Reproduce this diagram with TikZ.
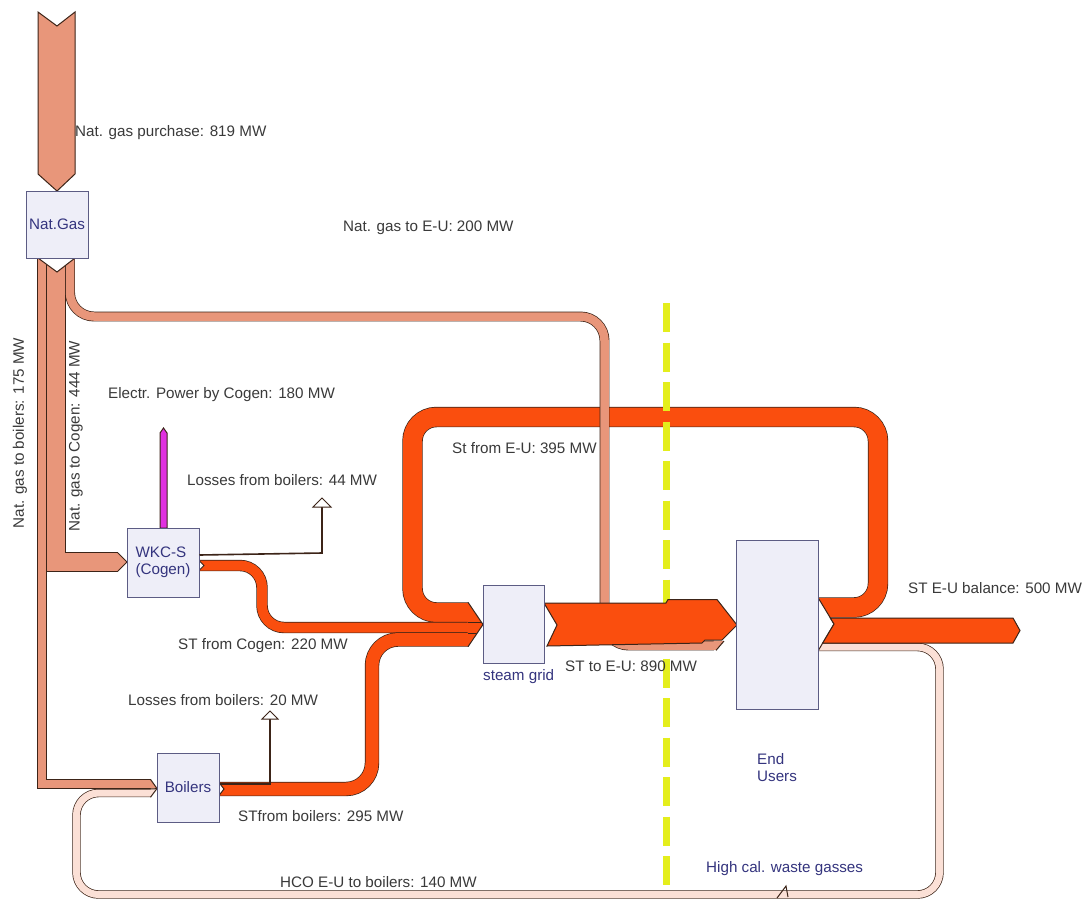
\documentclass[tikz,border=0pt]{standalone}
\usepackage{fontspec}
\setmainfont{Liberation Sans}
\definecolor{gas}{HTML}{E8967A}
\definecolor{steam}{HTML}{FA4E0E}
\definecolor{hco}{HTML}{FBE0D6}
\definecolor{edgec}{HTML}{3C2418}
\definecolor{boxfill}{HTML}{EEEEF8}
\definecolor{boxline}{HTML}{5C5C84}
\definecolor{boxtext}{HTML}{34347E}
\definecolor{labeltext}{HTML}{3A3A3A}
\definecolor{ylw}{HTML}{E4EE1C}
\definecolor{mag}{HTML}{E030E0}
\newcommand\flowband[3]{%
  \draw[#1, draw=edgec, line width=#2pt+1.4pt] #3;
  \draw[#1, line width=#2pt] #3;}
\newcommand\fs{\fontsize{15.2}{17}\selectfont}
\begin{document}
\begin{tikzpicture}[x=1pt,y=-1pt,
  box/.style={draw=boxline, fill=boxfill, line width=1pt, text=boxtext, inner sep=0pt, font=\fs},
  lbl/.style={text=labeltext, inner sep=0pt, anchor=west, font=\fs},
  blbl/.style={text=boxtext, inner sep=0pt, anchor=west, font=\fs},
  edg/.style={draw=edgec, line width=1pt},
  loss/.style={draw=edgec, line width=1.6pt}]
\useasboundingbox[fill=white] (0,0) rectangle (1090,903);

% ---- natural gas purchase
\filldraw[fill=gas, edg] (38,12)--(57,26)--(75,12)--(75,174)--(57,191)--(38,174)--cycle;

% ---- gas to cogen and boilers
\flowband{draw=gas}{18}{(56,258)--(56,562)--(118,562)}
\filldraw[fill=gas, edg] (117.5,553)--(118,553)--(127,562)--(118,571)--(117.5,571);
\flowband{draw=gas}{8}{(42,258)--(42,784)--(151,784)}

% ---- HCO loop back to boilers
\flowband{draw=hco, rounded corners=22pt}{7}{(818,647)--(939.5,647)--(939.5,894.5)--(76.5,894.5)--(76.5,793)--(151,793)}
\fill[gas] (150.5,780)--(157,788.5)--(150.5,788.5)--cycle;
\fill[hco] (150.5,789.5)--(157,788.5)--(150.5,796.5)--cycle;
\draw[edg] (150.5,779.4)--(157,788.5)--(150.5,797.2);
\draw[edg] (150.5,788.9)--(156,788.7);
\draw[edg] (777,898)--(786,886)--(788,897);

% ---- steam loop from end users
\flowband{draw=steam, rounded corners=24pt}{19}{(818,607.5)--(878,607.5)--(878,417)--(412.5,417)--(412.5,612.5)--(468,612.5)}
% ---- steam from cogen
\flowband{draw=steam, rounded corners=22pt}{10}{(199,565.5)--(262,565.5)--(262,627.5)--(468,627.5)}
% ---- steam from boilers
\flowband{draw=steam, rounded corners=26pt}{13}{(219,789)--(372,789)--(372,639.5)--(468,639.5)}
% tips into steam grid
\fill[steam] (467.5,603)--(468,603)--(481.3,622)--(467.5,622)--cycle;
\fill[steam] (467.5,622)--(481.3,622)--(483,624.5)--(477.1,633)--(467.5,633)--cycle;
\fill[steam] (467.5,633)--(477.1,633)--(468,646)--(467.5,646)--cycle;
\draw[edg] (468,602.3)--(483,624.5)--(468,646.7);
\draw[edg] (468,622)--(481.3,622);
\draw[edg] (468,633)--(477.1,633);

% ---- yellow boundary
\draw[ylw, line width=7.5pt, dash pattern=on 29pt off 10.5pt] (666.5,303)--(666.5,886);

% ---- gas to end users
\flowband{draw=gas, rounded corners=24pt}{8.5}{(70,258)--(70,316.5)--(604.5,316.5)--(604.5,645.5)--(714,645.5)}
\fill[gas] (713.5,641.2)--(724,641.2)--(716,649.8)--(713.5,649.8)--cycle;
\draw[edg] (724,641)--(716,650.4);

% ---- steam to end users
\filldraw[fill=steam, edg] (544,603)--(666,603)--(668,599.5)--(717,599.5)--(737,625)--(722,640)--(705,640)--(702,643)--(547,646)--(557,625)--cycle;

% ---- end users outputs
\filldraw[fill=white, edg] (818,597.5)--(834,624)--(818,651);
\filldraw[fill=steam, edg] (830.3,618)--(1013,618)--(1020,630.5)--(1013,643)--(822.7,643)--(834,624)--cycle;

% ---- notches
\filldraw[fill=white, edg] (38,258)--(57,272)--(75,258);
\filldraw[fill=white, edg] (199,560.5)--(204,565.5)--(199,570.5);
\filldraw[fill=white, edg] (219,782.5)--(224,789)--(219,795.5);

% ---- electric power
\filldraw[fill=mag, edg] (160,528)--(160,433)--(163.5,428)--(167,433)--(167,528)--cycle;

% ---- boxes
\node[box, minimum width=62pt, minimum height=67pt] (natgas) at (57,224.5) {Nat.Gas};
\node[box, minimum width=72pt, minimum height=69pt, align=left] (wkc) at (163,562.5) {WKC-S\\(Cogen)};
\node[box, minimum width=62pt, minimum height=69pt] (boilers) at (188,787.5) {Boilers};
\node[box, minimum width=61pt, minimum height=78pt] (grid) at (513.5,624) {};
\node[box, minimum width=82pt, minimum height=169pt] (users) at (777,624.5) {};

% ---- losses
\draw[loss] (wkc.east |- 0,555) -- (322,553) -- (322,507);
\filldraw[fill=white, edg] (313,507)--(322,498)--(331,507)--cycle;
\draw[loss] (boilers.east |- 0,784) -- (270,784) -- (270,719);
\filldraw[fill=white, edg] (262,719)--(270,711)--(278,719)--cycle;

% ---- labels
\node[lbl] (l1) at (75,133) {Nat. gas purchase: 819 MW};
\node[lbl] (l2) at (343,228) {Nat. gas to E-U: 200 MW};
\node[lbl] (l3) at (108,395) {Electr. Power by Cogen: 180 MW};
\node[lbl] (l4) at (187,480) {Losses from boilers: 44 MW};
\node[lbl] (l5) at (452,448) {St from E-U: 395 MW};
\node[lbl] (l6) at (178,646) {ST from Cogen: 220 MW};
\node[lbl] (l7) at (565,666) {ST to E-U: 890 MW};
\node[lbl] (l8) at (908,588) {ST E-U balance: 500 MW};
\node[lbl] (l9) at (128,700) {Losses from boilers: 20 MW};
\node[lbl] (l10) at (238,816) {STfrom boilers: 295 MW};
\node[lbl] (l11) at (280,882) {HCO E-U to boilers: 140 MW};
\node[blbl] (l12) at (706,869) {High cal. waste gasses};
\node[blbl, align=left] (l13) at (757,768) {End\\Users};
\node[blbl] (l14) at (483,677) {steam grid};
\node[lbl, anchor=center, rotate=90] (l15) at (20,433) {Nat. gas to boilers: 175 MW};
\node[lbl, anchor=center, rotate=90] (l16) at (76,436) {Nat. gas to Cogen: 444 MW};
\end{tikzpicture}
\end{document}
